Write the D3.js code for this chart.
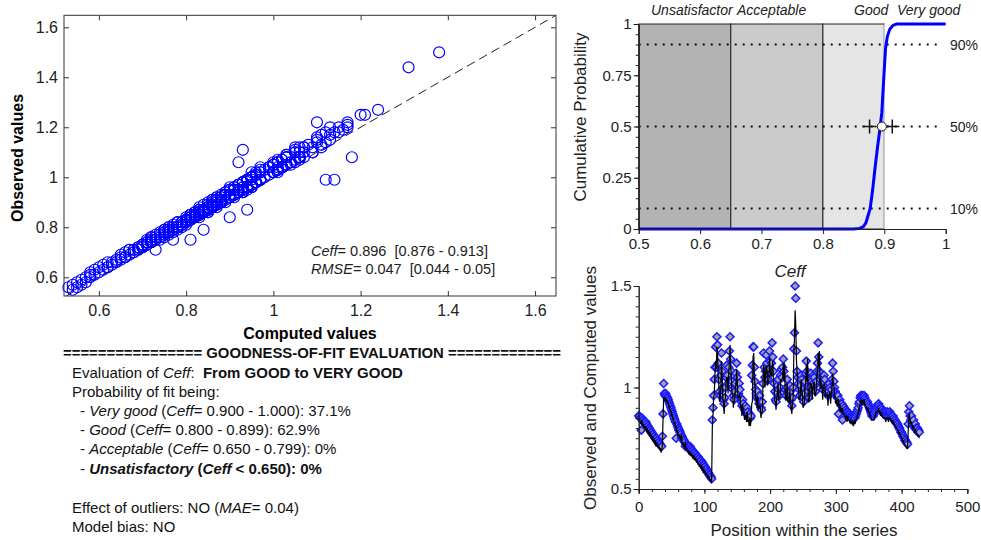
<!DOCTYPE html>
<html>
<head>
<meta charset="utf-8">
<script src="https://cdn.jsdelivr.net/npm/d3@7"></script>
<style>
body { margin: 0; background: #fff; }
svg { font-family: "Liberation Sans", Arial, sans-serif; }
text { white-space: pre; }
</style>
</head>
<body>
<div id="chart"></div>
<script>
// observed values along the series (position = index)
var observed = [
  0.86,0.86,0.85,0.85,0.79,0.85,0.84,0.84,0.83,0.83,
  0.82,0.83,0.82,0.81,0.81,0.80,0.80,0.79,0.79,0.78,
  0.78,0.77,0.77,0.76,0.76,0.75,0.75,0.75,0.74,0.74,
  0.73,0.73,0.72,0.72,0.71,0.71,
  0.76,0.87,1.02,0.97,0.96,0.97,
  0.96,0.95,0.95,0.94,0.93,0.92,0.91,0.90,0.89,0.88,
  0.87,0.86,0.85,0.84,0.83,0.75,0.82,0.81,0.80,0.79,
  0.79,0.78,0.77,0.75,0.76,0.75,0.74,0.74,0.73,0.71,
  0.72,0.72,0.71,0.71,0.71,0.70,0.71,0.70,0.70,0.69,
  0.69,0.68,0.68,0.68,0.67,0.67,0.66,0.66,0.66,0.65,
  0.65,0.64,0.64,0.64,0.63,0.63,0.62,0.62,0.61,0.61,
  0.60,0.60,0.59,0.58,0.58,0.57,0.57,0.56,0.56,0.55,
  0.84,0.90,0.96,1.04,1.10,1.20,1.10,1.25,1.21,1.12,
  1.04,0.98,0.96,1.06,1.17,1.08,1.00,0.94,0.92,0.95,
  1.00,1.05,1.11,1.06,1.02,1.10,1.18,1.25,1.14,1.08,
  1.03,0.99,0.96,0.94,0.98,1.02,1.07,1.12,1.05,1.00,
  0.97,1.02,0.99,0.95,0.93,0.91,0.94,0.92,0.90,0.89,
  0.91,0.88,0.87,0.90,0.88,0.86,0.85,0.87,0.85,0.86,
  1.06,1.11,1.20,1.20,1.10,1.03,0.99,0.97,0.95,0.98,
  0.94,0.92,0.96,0.93,0.90,0.89,0.93,1.02,1.17,1.10,
  1.05,1.08,1.16,1.12,1.06,1.04,1.09,1.18,1.13,1.07,
  1.12,1.22,1.15,1.08,1.02,0.98,0.94,0.93,0.97,1.01,
  1.04,0.99,0.96,1.00,1.06,1.09,1.05,1.10,1.14,1.08,
  0.99,0.99,0.96,1.00,1.04,0.98,0.95,0.97,1.01,0.98,
  0.94,0.91,0.95,1.00,1.19,1.27,1.50,1.44,1.18,1.08,
  1.05,1.02,0.99,0.96,1.01,1.06,1.04,0.99,0.95,0.93,
  0.97,1.03,1.07,1.13,1.08,0.99,0.98,0.95,1.00,1.04,
  1.07,1.03,0.99,1.02,1.06,1.05,1.01,0.98,1.03,1.08,
  1.12,1.22,1.15,1.08,1.04,1.07,1.05,1.02,0.99,1.03,
  1.06,1.04,1.00,0.98,1.01,0.99,0.96,0.98,1.02,1.00,
  0.97,0.99,1.04,1.12,1.08,1.03,1.00,0.98,0.97,0.96,
  0.95,0.96,0.87,0.93,0.94,0.92,0.91,0.92,0.84,0.91,
  0.89,0.90,0.88,0.89,0.88,0.87,0.88,0.87,0.86,0.87,
  0.86,0.86,0.85,0.86,0.85,0.85,0.86,0.85,0.86,0.87,
  0.88,0.89,0.90,0.92,0.93,0.95,0.96,0.96,0.95,0.96,
  0.95,0.96,0.95,0.94,0.93,0.92,0.93,0.92,0.91,0.90,
  0.89,0.88,0.87,0.86,0.87,0.86,0.87,0.88,0.89,0.90,
  0.91,0.90,0.91,0.92,0.91,0.90,0.89,0.90,0.89,0.88,
  0.88,0.87,0.88,0.87,0.86,0.87,0.88,0.87,0.86,0.87,
  0.88,0.87,0.86,0.86,0.85,0.86,0.85,0.84,0.84,0.83,
  0.83,0.82,0.82,0.81,0.80,0.80,0.79,0.78,0.78,0.77,
  0.76,0.76,0.75,0.74,0.74,0.73,0.73,0.72,0.82,0.88,
  0.91,0.86,0.84,0.86,0.83,0.82,0.84,0.81,0.80,0.82,
  0.80,0.79,0.80,0.78,0.79,0.78
];

// computed (model) values, same positions
var computed = [
  0.85,0.83,0.83,0.82,0.84,0.83,0.81,0.82,0.80,0.81,
  0.79,0.81,0.78,0.80,0.77,0.79,0.76,0.78,0.75,0.77,
  0.74,0.76,0.73,0.75,0.72,0.74,0.71,0.73,0.71,0.72,
  0.70,0.71,0.69,0.70,0.68,0.69,
  0.72,0.84,0.95,0.95,0.94,0.95,
  0.93,0.94,0.92,0.93,0.90,0.91,0.88,0.89,0.86,0.87,
  0.84,0.85,0.82,0.83,0.80,0.81,0.78,0.79,0.76,0.77,
  0.75,0.76,0.74,0.77,0.72,0.73,0.71,0.72,0.70,0.73,
  0.69,0.70,0.68,0.69,0.67,0.68,0.67,0.68,0.66,0.67,
  0.65,0.66,0.65,0.66,0.64,0.65,0.63,0.64,0.62,0.63,
  0.61,0.62,0.60,0.62,0.59,0.61,0.58,0.60,0.58,0.59,
  0.57,0.58,0.56,0.57,0.55,0.56,0.54,0.55,0.53,0.54,
  0.80,0.86,0.95,0.97,1.06,1.13,1.09,1.20,1.17,1.05,
  1.01,0.93,0.94,1.00,1.13,1.06,0.95,0.92,0.87,0.93,
  0.95,1.03,1.05,1.05,0.97,1.07,1.12,1.21,1.10,1.06,
  0.97,0.97,0.90,0.93,0.93,1.00,1.01,1.09,1.03,0.95,
  0.95,0.96,0.97,0.90,0.91,0.86,0.92,0.87,0.88,0.84,
  0.86,0.86,0.83,0.88,0.83,0.84,0.81,0.85,0.81,0.84,
  0.92,0.93,1.15,1.17,1.05,1.01,0.94,0.95,0.90,0.96,
  0.89,0.90,0.91,0.91,0.85,0.87,0.88,1.00,1.11,1.09,
  1.00,1.06,1.10,1.11,1.01,1.02,1.03,1.15,1.08,1.06,
  1.06,1.10,1.13,1.03,1.01,0.93,0.93,0.89,0.95,0.96,
  1.02,0.94,0.95,0.95,1.04,1.03,1.04,1.05,1.12,1.03,
  1.12,0.95,0.94,0.95,1.02,0.93,0.93,0.92,0.99,0.93,
  0.89,0.87,0.93,0.95,1.16,1.24,1.38,1.31,1.14,1.07,
  1.00,1.00,0.94,0.94,0.96,1.04,0.99,0.97,0.90,0.91,
  0.92,1.01,1.02,1.11,1.03,1.14,0.93,0.93,0.95,1.02,
  1.02,1.01,0.94,1.00,1.01,1.03,0.96,0.96,0.98,1.06,
  1.07,1.17,1.10,1.18,0.99,1.05,1.00,1.00,0.94,1.01,
  1.01,1.02,0.95,0.96,0.96,0.97,0.91,0.96,0.97,0.98,
  0.92,0.97,0.99,1.07,1.03,1.01,0.95,0.96,0.92,0.94,
  0.91,0.94,0.94,0.89,0.92,0.88,0.89,0.88,0.90,0.87,
  0.87,0.86,0.86,0.85,0.86,0.83,0.86,0.84,0.84,0.83,
  0.84,0.82,0.83,0.82,0.83,0.81,0.84,0.82,0.83,0.85,
  0.85,0.87,0.87,0.90,0.89,0.93,0.93,0.94,0.91,0.94,
  0.92,0.94,0.91,0.92,0.90,0.90,0.89,0.90,0.88,0.88,
  0.86,0.86,0.84,0.84,0.84,0.84,0.84,0.86,0.86,0.88,
  0.88,0.88,0.88,0.90,0.88,0.88,0.86,0.88,0.86,0.86,
  0.85,0.85,0.85,0.85,0.83,0.85,0.85,0.85,0.83,0.85,
  0.85,0.85,0.83,0.84,0.82,0.84,0.82,0.82,0.81,0.81,
  0.80,0.80,0.79,0.79,0.77,0.78,0.76,0.76,0.75,0.75,
  0.73,0.74,0.72,0.72,0.71,0.71,0.70,0.70,0.78,0.85,
  0.87,0.84,0.82,0.83,0.81,0.80,0.81,0.79,0.78,0.79,
  0.78,0.77,0.77,0.76,0.76,0.75
];

// cumulative distribution of Ceff
var cdfCeff = [0.5, 0.85, 0.86, 0.866, 0.870, 0.873, 0.877, 0.881, 0.885, 0.889, 0.893, 0.896, 0.899, 0.902, 0.905, 0.909, 0.914, 0.92, 1];
var cdfProb = [0, 0, 0.003, 0.012, 0.03, 0.06, 0.10, 0.19, 0.30, 0.40, 0.49, 0.57, 0.73, 0.88, 0.94, 0.975, 0.993, 1, 1];

var classNames = ["Unsatisfactor", "Acceptable", "Good", "Very good"];
var classBounds = [0.5, 0.65, 0.8, 0.9, 1];
var probLevels = [0.1, 0.5, 0.9];
var probLabels = ["10%", "50%", "90%"];
var ceffMedian = 0.896, ceffLow = 0.876, ceffHigh = 0.913;

var classColors = ["#b3b3b3", "#cbcbcb", "#e5e5e5", "#ffffff"];

var svg = d3.select("#chart").append("svg")
  .attr("width", 981)
  .attr("height", 540);

var points = observed.map(function(o, i) {
  return {pos: i, obs: o, comp: computed[i]};
});

// ---------------- scatter: observed vs computed ----------------
var xs = d3.scaleLinear().domain([0.52, 1.648]).range([64, 556]);
var ys = d3.scaleLinear().domain([0.525, 1.648]).range([296, 15.3]);
var sTicks = [0.6, 0.8, 1, 1.2, 1.4, 1.6];

var sc = svg.append("g");

sc.append("line")
  .attr("x1", xs(0.525)).attr("y1", ys(0.525))
  .attr("x2", xs(1.648)).attr("y2", ys(1.648))
  .attr("stroke", "#222")
  .attr("stroke-dasharray", "9,5");

sc.selectAll("circle").data(points).enter()
  .append("circle")
  .attr("cx", d => xs(d.comp))
  .attr("cy", d => ys(d.obs))
  .attr("r", 5.5)
  .attr("fill", "none")
  .attr("stroke", "#0000ff")
  .attr("stroke-width", 1.2);

sc.append("rect")
  .attr("x", 64).attr("y", 15.3)
  .attr("width", 556 - 64).attr("height", 296 - 15.3)
  .attr("fill", "none").attr("stroke", "#333");

var sxb = sc.append("g").attr("transform", "translate(0,296)")
  .call(d3.axisBottom(xs).tickValues(sTicks).tickSizeInner(-5).tickSizeOuter(0).tickPadding(9).tickFormat(d3.format("")));
var syl = sc.append("g").attr("transform", "translate(64,0)")
  .call(d3.axisLeft(ys).tickValues(sTicks).tickSizeInner(-5).tickSizeOuter(0).tickPadding(6).tickFormat(d3.format("")));
var sxt = sc.append("g").attr("transform", "translate(0,15.3)")
  .call(d3.axisTop(xs).tickValues(sTicks).tickSizeInner(-5).tickSizeOuter(0).tickFormat(""));
var syr = sc.append("g").attr("transform", "translate(556,0)")
  .call(d3.axisRight(ys).tickValues(sTicks).tickSizeInner(-5).tickSizeOuter(0).tickFormat(""));
[sxb, syl, sxt, syr].forEach(function(g) {
  g.select(".domain").remove();
  g.selectAll("line").attr("stroke", "#333");
  g.selectAll("text").attr("font-size", 16).attr("font-family", "Liberation Sans, Arial, sans-serif").attr("fill", "#222");
});

sc.append("text")
  .attr("transform", "translate(23,158) rotate(-90)")
  .attr("text-anchor", "middle")
  .attr("font-size", 16).attr("font-weight", "bold")
  .text("Observed values");
sc.append("text")
  .attr("x", 310).attr("y", 339)
  .attr("text-anchor", "middle")
  .attr("font-size", 16).attr("font-weight", "bold")
  .text("Computed values");

var st1 = sc.append("text").attr("x", 311).attr("y", 256).attr("font-size", 14.5).attr("fill", "#222");
st1.append("tspan").attr("font-style", "italic").text("Ceff");
st1.append("tspan").text("= 0.896  [0.876 - 0.913]");
var st2 = sc.append("text").attr("x", 311).attr("y", 274).attr("font-size", 14.5).attr("fill", "#222");
st2.append("tspan").attr("font-style", "italic").text("RMSE");
st2.append("tspan").text("= 0.047  [0.044 - 0.05]");

// ---------------- text block ----------------
var tb = svg.append("g").attr("font-size", 15).attr("fill", "#111");

tb.append("text")
  .attr("x", 63).attr("y", 358)
  .attr("font-size", 14)
  .attr("font-weight", "bold")
  .attr("textLength", 498).attr("lengthAdjust", "spacingAndGlyphs")
  .text("================ GOODNESS-OF-FIT EVALUATION =============");

function textLine(x, y, parts) {
  var t = tb.append("text").attr("x", x).attr("y", y);
  parts.forEach(function(p) {
    var s = t.append("tspan").text(p[0]);
    if (p[1] && p[1].indexOf("i") >= 0) s.attr("font-style", "italic");
    if (p[1] && p[1].indexOf("b") >= 0) s.attr("font-weight", "bold");
  });
  return t;
}

textLine(72, 378, [["Evaluation of "], ["Ceff", "i"], [":  "], ["From GOOD to VERY GOOD", "b"]]);
textLine(72, 397, [["Probability of fit being:"]]);
textLine(80, 416, [["- "], ["Very good", "i"], [" ("], ["Ceff", "i"], ["= 0.900 - 1.000): 37.1%"]]);
textLine(80, 435, [["- "], ["Good", "i"], [" ("], ["Ceff", "i"], ["= 0.800 - 0.899): 62.9%"]]);
textLine(80, 454, [["- "], ["Acceptable", "i"], [" ("], ["Ceff", "i"], ["= 0.650 - 0.799): 0%"]]);
textLine(80, 474, [["- "], ["Unsatisfactory", "bi"], [" (", "b"], ["Ceff", "bi"], [" < 0.650): 0%", "b"]]);
textLine(72, 513, [["Effect of outliers: NO ("], ["MAE", "i"], ["= 0.04)"]]);
textLine(72, 532, [["Model bias: NO"]]);

// ---------------- cumulative probability of Ceff ----------------
var xc = d3.scaleLinear().domain([0.5, 1]).range([638.7, 945.7]);
var yc = d3.scaleLinear().domain([0, 1]).range([229, 24]);

var cp = svg.append("g");

cp.selectAll("rect.cls").data(classNames).enter()
  .append("rect")
  .attr("class", "cls")
  .attr("x", (d, i) => xc(classBounds[i]))
  .attr("y", yc(1))
  .attr("width", (d, i) => xc(classBounds[i + 1]) - xc(classBounds[i]))
  .attr("height", yc(0) - yc(1))
  .attr("fill", (d, i) => classColors[i])
  .attr("stroke", (d, i) => i < 3 ? "#222" : "none");

var labelX = [651, 737, 854, 897];
cp.selectAll("text.cls").data(classNames).enter()
  .append("text")
  .attr("class", "cls")
  .attr("x", (d, i) => labelX[i])
  .attr("y", 15)
  .attr("font-size", 14).attr("font-style", "italic").attr("fill", "#222")
  .text(d => d);

cp.selectAll("line.lvl").data(probLevels).enter()
  .append("line")
  .attr("class", "lvl")
  .attr("x1", xc(0.5)).attr("x2", xc(0.99))
  .attr("y1", d => yc(d)).attr("y2", d => yc(d))
  .attr("stroke", "#111").attr("stroke-width", 2)
  .attr("stroke-dasharray", "2,6");

cp.selectAll("text.lvl").data(probLevels).enter()
  .append("text")
  .attr("class", "lvl")
  .attr("x", 950).attr("y", d => yc(d) + 5)
  .attr("font-size", 14).attr("fill", "#222")
  .text((d, i) => probLabels[i]);

var cdfLine = d3.line()
  .x(d => xc(d[0]))
  .y(d => yc(d[1]));
cp.append("path")
  .datum(cdfCeff.map((c, i) => [c, cdfProb[i]]))
  .attr("d", cdfLine)
  .attr("fill", "none")
  .attr("stroke", "#0000ff")
  .attr("stroke-width", 3);

[ceffLow, ceffHigh].forEach(function(v) {
  cp.append("path")
    .attr("d", "M" + (xc(v) - 7) + "," + yc(0.5) + "h14M" + xc(v) + "," + (yc(0.5) - 7) + "v14")
    .attr("stroke", "#111").attr("stroke-width", 1.5);
});
cp.append("circle")
  .attr("cx", xc(ceffMedian)).attr("cy", yc(0.5)).attr("r", 4.5)
  .attr("fill", "#fff").attr("stroke", "#111");

var cxa = cp.append("g").attr("transform", "translate(0,229)")
  .call(d3.axisBottom(xc).tickValues([0.5, 0.6, 0.7, 0.8, 0.9, 1]).tickSizeOuter(0).tickSize(5).tickPadding(4).tickFormat(d3.format("")));
var cya = cp.append("g").attr("transform", "translate(638.7,0)")
  .call(d3.axisLeft(yc).tickValues([0, 0.25, 0.5, 0.75, 1]).tickSizeOuter(0).tickSize(5).tickPadding(2).tickFormat(d3.format("")));
var cym = cp.append("g").attr("transform", "translate(638.7,0)")
  .call(d3.axisLeft(yc).tickValues(d3.range(0, 1.001, 0.05)).tickSizeOuter(0).tickSize(3).tickFormat(""));
[cxa, cya, cym].forEach(function(g) {
  g.select(".domain").attr("stroke", "#222");
  g.selectAll("line").attr("stroke", "#222");
  g.selectAll("text").attr("font-size", 15).attr("font-family", "Liberation Sans, Arial, sans-serif").attr("fill", "#222");
});

cp.append("text")
  .attr("transform", "translate(586,117) rotate(-90)")
  .attr("text-anchor", "middle")
  .attr("font-size", 17).attr("fill", "#222")
  .text("Cumulative Probability");
cp.append("text")
  .attr("x", 790).attr("y", 277)
  .attr("text-anchor", "middle")
  .attr("font-size", 17).attr("font-style", "italic").attr("fill", "#222")
  .text("Ceff");

// ---------------- observed and computed along the series ----------------
var xb = d3.scaleLinear().domain([0, 500]).range([638.7, 967.3]);
var yb = d3.scaleLinear().domain([0.5, 1.5]).range([489, 286]);

var sr = svg.append("g");

sr.selectAll("path.obs").data(points).enter()
  .append("path")
  .attr("class", "obs")
  .attr("transform", d => "translate(" + xb(d.pos) + "," + yb(d.obs) + ")")
  .attr("d", "M0,-4L4,0L0,4L-4,0Z")
  .attr("fill", "#a3a3a3")
  .attr("stroke", "#1a1aff")
  .attr("stroke-width", 1.5);

var compLine = d3.line()
  .x(d => xb(d.pos))
  .y(d => yb(d.comp));
sr.append("path")
  .datum(points)
  .attr("d", compLine)
  .attr("fill", "none")
  .attr("stroke", "#000")
  .attr("stroke-width", 1.2);

var bxa = sr.append("g").attr("transform", "translate(0,489)")
  .call(d3.axisBottom(xb).tickValues([0, 100, 200, 300, 400, 500]).tickSizeOuter(0).tickSize(5).tickPadding(7).tickFormat(d3.format("")));
var bxm = sr.append("g").attr("transform", "translate(0,489)")
  .call(d3.axisBottom(xb).tickValues(d3.range(0, 501, 20)).tickSizeOuter(0).tickSize(3).tickFormat(""));
var bya = sr.append("g").attr("transform", "translate(638.7,0)")
  .call(d3.axisLeft(yb).tickValues([0.5, 1, 1.5]).tickSizeOuter(0).tickSize(5).tickPadding(2).tickFormat(d3.format("")));
var bym = sr.append("g").attr("transform", "translate(638.7,0)")
  .call(d3.axisLeft(yb).tickValues(d3.range(0.5, 1.501, 0.05)).tickSizeOuter(0).tickSize(3).tickFormat(""));
[bxa, bxm, bya, bym].forEach(function(g) {
  g.select(".domain").attr("stroke", "#222");
  g.selectAll("line").attr("stroke", "#222");
  g.selectAll("text").attr("font-size", 15).attr("font-family", "Liberation Sans, Arial, sans-serif").attr("fill", "#222");
});

sr.append("text")
  .attr("transform", "translate(596,388) rotate(-90)")
  .attr("text-anchor", "middle")
  .attr("font-size", 17).attr("fill", "#222")
  .text("Observed and Computed values");
sr.append("text")
  .attr("x", 804).attr("y", 536)
  .attr("text-anchor", "middle")
  .attr("font-size", 17).attr("fill", "#222")
  .text("Position within the series");
</script>
</body>
</html>
